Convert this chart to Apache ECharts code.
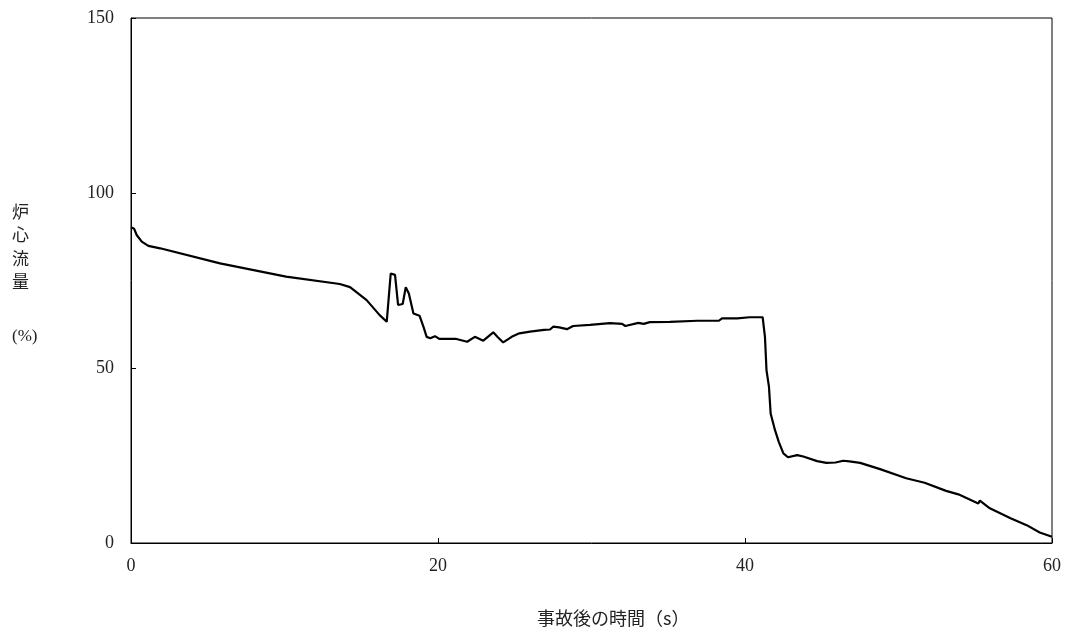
<!DOCTYPE html>
<html><head><meta charset="utf-8">
<script src="https://cdn.jsdelivr.net/npm/echarts@6/dist/echarts.min.js"></script>
<style>html,body{margin:0;padding:0;background:#fff}#c{width:1069px;height:635px}</style>
</head><body><div id="c"></div>
<script>
const times = [0,0.2,0.37,0.7,1.13,1.9,5.8,10.1,13.6,14.27,15.35,16.2,16.66,16.77,16.92,17.2,17.4,17.7,17.9,18.1,18.4,18.8,19.05,19.26,19.5,19.8,20.1,21.2,21.9,22.4,22.95,23.6,23.9,24.25,24.8,25.3,26.0,26.9,27.3,27.5,27.9,28.4,28.8,29.9,31.2,32.0,32.2,33.05,33.4,33.8,35.1,36.9,38.3,38.5,39.5,40.3,41.15,41.3,41.4,41.56,41.67,41.95,42.2,42.5,42.8,43.4,43.8,44.7,45.3,45.9,46.4,46.8,47.5,48.8,50.5,51.7,53.1,53.9,55.2,55.3,55.95,57.3,58.35,59.2,60.0];
const coreFlow = [90.2,89.8,88,86.1,84.9,84.2,79.9,76.1,74.0,73.1,69.4,65.1,63.2,62.8,77.0,76.6,68,68.3,73.1,71.3,65.6,64.9,61.8,58.9,58.5,59.1,58.3,58.3,57.5,58.9,57.8,60.2,58.8,57.3,58.9,59.9,60.4,60.9,61.0,61.8,61.6,61.1,62.0,62.3,62.8,62.6,62.0,62.9,62.6,63.1,63.2,63.5,63.5,64.2,64.2,64.5,64.5,58.9,49.4,44.7,37.0,32.3,28.9,25.6,24.5,25.1,24.7,23.4,22.9,23.0,23.5,23.3,22.9,21.1,18.5,17.2,14.9,13.9,11.3,12.1,9.9,7.1,5.1,3.0,1.8];
const xAxisName = '事故後の時間（s）';
const yAxisChars = ['炉','心','流','量'];
const yUnit = '(%)';

const FONT = '"Liberation Serif","DejaVu Serif","Noto Sans CJK JP",serif';
const chart = echarts.init(document.getElementById('c'), null, {renderer:'canvas'});
const graphics = yAxisChars.map((ch,i)=>({type:'text', left:12, top:203+i*23.5,
  style:{text:ch, font:'17px "Noto Sans CJK JP"', fill:'#222'}}));
graphics.push({type:'text', left:12, top:328, style:{text:yUnit, font:'17px '+FONT, fill:'#222'}});
graphics.push({type:'text', left:537, top:609, style:{text:xAxisName, font:'18px "Noto Sans CJK JP"', fill:'#222'}});

chart.setOption({
  animation:false,
  backgroundColor:'#fff',
  grid:{left:131, right:17, top:18, bottom:92, show:true, borderColor:'#000', borderWidth:1},
  xAxis:{type:'value', min:0, max:60, interval:20,
    axisLine:{lineStyle:{color:'#000',width:1}},
    axisTick:{inside:true, length:5, lineStyle:{color:'#000'}},
    axisLabel:{color:'#222', fontFamily:FONT, fontSize:18, margin:14},
    splitLine:{show:false}},
  yAxis:{type:'value', min:0, max:150, interval:50,
    axisLine:{show:true, lineStyle:{color:'#000',width:1}},
    axisTick:{show:true, inside:true, length:5, lineStyle:{color:'#000'}},
    axisLabel:{color:'#222', fontFamily:FONT, fontSize:18, margin:17},
    splitLine:{show:false}},
  graphic:graphics,
  series:[{type:'line', data:times.map((t,i)=>[t,coreFlow[i]]), showSymbol:false,
    lineStyle:{color:'#000', width:2.2}, smooth:false}]
});
</script></body></html>
